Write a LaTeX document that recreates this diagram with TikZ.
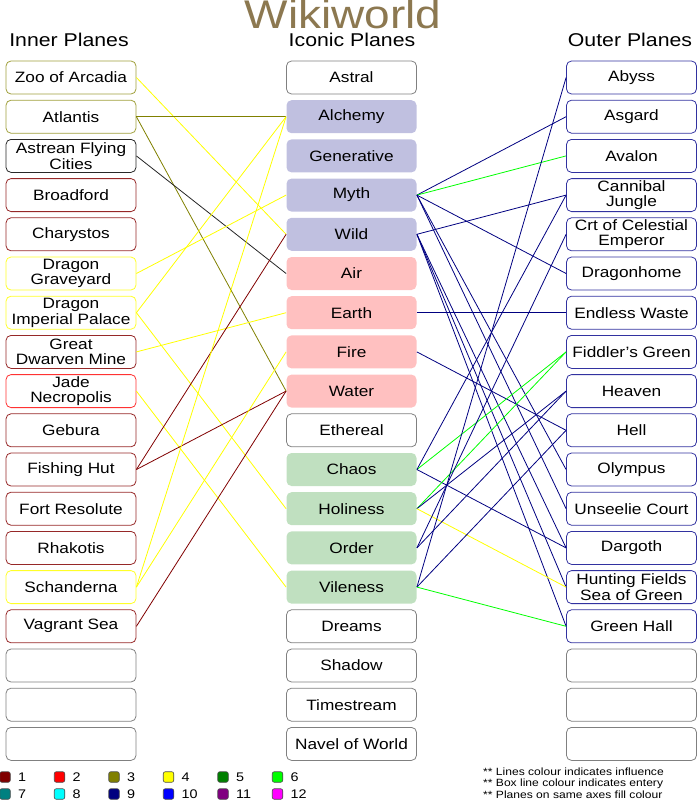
\documentclass[tikz,border=0pt]{standalone}
\usepackage{fontspec}
\setmainfont{Liberation Sans}[FakeStretch=1.15]
\usetikzlibrary{positioning}

\definecolor{c1}{RGB}{128,0,0}
\definecolor{c2}{RGB}{255,0,0}
\definecolor{c3}{RGB}{128,128,0}
\definecolor{c4}{RGB}{255,255,0}
\definecolor{c5}{RGB}{0,128,0}
\definecolor{c6}{RGB}{0,255,0}
\definecolor{c7}{RGB}{0,128,128}
\definecolor{c8}{RGB}{0,255,255}
\definecolor{c9}{RGB}{0,0,128}
\definecolor{c10}{RGB}{0,0,255}
\definecolor{c11}{RGB}{128,0,128}
\definecolor{c12}{RGB}{255,0,255}
\definecolor{titlebrown}{RGB}{140,120,80}
\definecolor{maroonbox}{RGB}{150,40,40}
\definecolor{olivebox}{RGB}{160,160,60}
\definecolor{yellowbox}{RGB}{255,255,40}
\definecolor{redbox}{RGB}{255,50,50}
\definecolor{darkbox}{RGB}{40,40,40}
\definecolor{navybox}{RGB}{50,50,160}
\definecolor{graybox}{RGB}{128,128,128}
\definecolor{lavender}{RGB}{192,192,224}
\definecolor{rosefill}{RGB}{255,192,192}
\definecolor{mintfill}{RGB}{192,224,192}

\begin{document}
\begin{tikzpicture}[x=1pt, y=-1pt,
    plane/.style={rounded corners=5pt, minimum width=130pt, minimum height=33pt,
        inner sep=1pt, align=center, line width=0.8pt,
        font=\fontsize{15}{15.5}\selectfont},
    iconwhite/.style={draw=graybox},
    iconmyth/.style={fill=lavender},
    iconelem/.style={fill=rosefill},
    iconalign/.style={fill=mintfill},
    heading/.style={font=\fontsize{18.5}{20}\selectfont, inner sep=1pt},
    infl/.style={line width=0.8pt},
    legsq/.style={draw=black!70, rounded corners=2pt, minimum size=10.5pt, inner sep=0pt, line width=0.6pt},
    legnum/.style={font=\fontsize{12.5}{12.5}\selectfont, anchor=west},
    note/.style={font=\fontsize{10.5}{11}\selectfont, anchor=west, inner sep=1pt}]
\useasboundingbox (0,0) rectangle (697,800);

% title and headings
\node[font=\fontsize{40}{40}\selectfont, text=titlebrown, anchor=base, inner sep=0pt] (title) at (343,29) {Wikiworld};
\node[heading] (innerhead) at (69,40) {Inner Planes};
\node[heading] (iconhead) at (352,40) {Iconic Planes};
\node[heading] (outerhead) at (630,40) {Outer Planes};

% inner planes
\foreach \nm/\txt/\col [count=\i from 0] in {
    zoo/Zoo of Arcadia/olivebox, atlantis/Atlantis/olivebox,
    astrean/{Astrean Flying\\Cities}/darkbox, broadford/Broadford/maroonbox,
    charystos/Charystos/maroonbox, dgrave/{Dragon\\Graveyard}/yellowbox,
    dpalace/{Dragon\\Imperial Palace}/yellowbox, dwarven/{Great\\Dwarven Mine}/maroonbox,
    jade/{Jade\\Necropolis}/redbox, gebura/Gebura/maroonbox,
    fishing/Fishing Hut/maroonbox, fort/Fort Resolute/maroonbox,
    rhakotis/Rhakotis/maroonbox, schanderna/Schanderna/yellowbox,
    vagrant/Vagrant Sea/maroonbox, innerA/{}/graybox,
    innerB/{}/graybox, innerC/{}/graybox}
  \node[plane, draw=\col] (\nm) at (71,{77.5+39.2*\i}) {\txt};

% iconic planes
\foreach \nm/\txt/\sty [count=\i from 0] in {
    astral/Astral/iconwhite, alchemy/Alchemy/iconmyth,
    generative/Generative/iconmyth, myth/Myth/iconmyth,
    wild/Wild/iconmyth, air/Air/iconelem, earth/Earth/iconelem,
    fire/Fire/iconelem, water/Water/iconelem, ethereal/Ethereal/iconwhite,
    chaos/Chaos/iconalign, holiness/Holiness/iconalign,
    order/Order/iconalign, vileness/Vileness/iconalign,
    dreams/Dreams/iconwhite, shadow/Shadow/iconwhite,
    timestream/Timestream/iconwhite, navel/Navel of World/iconwhite}
  \node[plane, style=\sty] (\nm) at (351.5,{77.5+39.2*\i}) {\txt};

% outer planes
\foreach \nm/\txt/\col [count=\i from 0] in {
    abyss/Abyss/navybox, asgard/Asgard/navybox, avalon/Avalon/navybox,
    cannibal/{Cannibal\\Jungle}/navybox, celestial/{Crt of Celestial\\Emperor}/navybox,
    dragonhome/Dragonhome/navybox, endless/Endless Waste/navybox,
    fiddler/Fiddler's Green/navybox, heaven/Heaven/navybox,
    hell/Hell/navybox, olympus/Olympus/navybox,
    unseelie/Unseelie Court/navybox, dargoth/Dargoth/navybox,
    hunting/{Hunting Fields\\Sea of Green}/navybox, greenhall/Green Hall/navybox,
    outerA/{}/graybox, outerB/{}/graybox, outerC/{}/graybox}
  \node[plane, draw=\col] (\nm) at (631.5,{77.5+39.2*\i}) {\txt};

% influences, inner to iconic
\draw[infl, c4] (zoo.east) -- (wild.west);
\draw[infl, c3] (atlantis.east) -- (alchemy.west);
\draw[infl, c3] (atlantis.east) -- (water.west);
\draw[infl, black!85] (astrean.east) -- (air.west);
\draw[infl, c4] (dgrave.east) -- (myth.west);
\draw[infl, c4] (dpalace.east) -- (alchemy.west);
\draw[infl, c4] (dpalace.east) -- (holiness.west);
\draw[infl, c4] (dwarven.east) -- (earth.west);
\draw[infl, c4] (jade.east) -- (vileness.west);
\draw[infl, c1] (fishing.east) -- (wild.west);
\draw[infl, c1] (fishing.east) -- (water.west);
\draw[infl, c4] (schanderna.east) -- (alchemy.west);
\draw[infl, c4] (schanderna.east) -- (fire.west);
\draw[infl, c1] (vagrant.east) -- (water.west);

% influences, iconic to outer
\draw[infl, c9] (myth.east) -- (asgard.west);
\draw[infl, c6] (myth.east) -- (avalon.west);
\draw[infl, c9] (myth.east) -- (dragonhome.west);
\draw[infl, c9] (myth.east) -- (olympus.west);
\draw[infl, c9] (myth.east) -- (unseelie.west);
\draw[infl, c9] (wild.east) -- (cannibal.west);
\draw[infl, c9] (wild.east) -- (dargoth.west);
\draw[infl, c9] (wild.east) -- (hunting.west);
\draw[infl, c9] (wild.east) -- (greenhall.west);
\draw[infl, c9] (earth.east) -- (endless.west);
\draw[infl, c9] (fire.east) -- (hell.west);
\draw[infl, c6] (chaos.east) -- (fiddler.west);
\draw[infl, c9] (chaos.east) -- (cannibal.west);
\draw[infl, c9] (chaos.east) -- (dargoth.west);
\draw[infl, c6] (holiness.east) -- (fiddler.west);
\draw[infl, c9] (holiness.east) -- (heaven.west);
\draw[infl, c4] (holiness.east) -- (hunting.west);
\draw[infl, c9] (order.east) -- (heaven.west);
\draw[infl, c9] (order.east) -- (celestial.west);
\draw[infl, c9] (vileness.east) -- (abyss.west);
\draw[infl, c9] (vileness.east) -- (hell.west);
\draw[infl, c6] (vileness.east) -- (greenhall.west);

% legend
\foreach \n [count=\k from 0] in {1,...,6} {
  \node[legsq, fill=c\n] (sq\n) at ({5+54.5*\k},777) {};
  \node[legnum, right=4pt of sq\n] (num\n) {\n};
}
\foreach \n [count=\k from 0] in {7,...,12} {
  \node[legsq, fill=c\n] (sq\n) at ({5+54.5*\k},794) {};
  \node[legnum, right=4pt of sq\n] (num\n) {\n};
}

% notes
\node[note] (noteA) at (482,772) {** Lines colour indicates influence};
\node[note] (noteB) at (482,784) {** Box line colour indicates entery};
\node[note] (noteC) at (482,795) {** Planes on same axes fill colour};
\end{tikzpicture}
\end{document}
